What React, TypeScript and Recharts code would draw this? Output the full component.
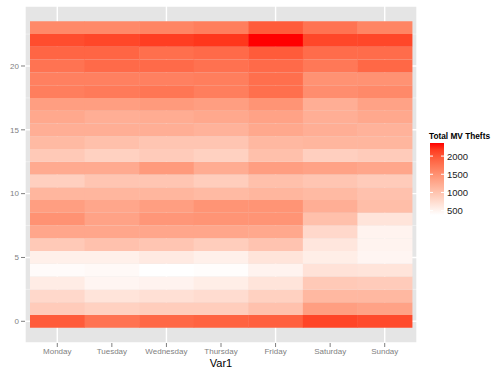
import { Bar, BarChart, CartesianGrid, Cell, XAxis, YAxis } from "recharts";

const days = ["Monday", "Tuesday", "Wednesday", "Thursday", "Friday", "Saturday", "Sunday"];
const hours = Array.from({ length: 24 }, (_, i) => i);
const yTicks = [0, 5, 10, 15, 20];
const legendTicks = [500, 1000, 1500, 2000];

// thefts per hour 0..23 for each day
const monday = [1965, 915, 780, 580, 420, 540, 935, 1290, 1490, 1370, 1135, 875, 1250, 935, 1095, 1210, 1270, 1370, 1670, 1650, 1765, 1885, 2065, 1570];
const tuesday = [1765, 855, 660, 480, 440, 540, 1015, 1290, 1330, 1290, 1135, 975, 1250, 855, 1035, 1210, 1210, 1370, 1705, 1650, 1845, 1885, 2105, 1570];
const wednesday = [1865, 895, 700, 500, 380, 600, 975, 1290, 1450, 1370, 1135, 975, 1410, 915, 975, 1210, 1230, 1410, 1745, 1650, 1845, 1805, 2160, 1610];
const thursday = [1905, 895, 740, 560, 400, 540, 895, 1290, 1470, 1470, 1095, 895, 1230, 855, 975, 1170, 1270, 1370, 1670, 1670, 1785, 1845, 2200, 1670];
const friday = [1925, 1015, 855, 660, 500, 660, 995, 1270, 1470, 1470, 1135, 1035, 1370, 1035, 1115, 1270, 1330, 1470, 1805, 1805, 1845, 1965, 2360, 1965];
const saturday = [2120, 1370, 1115, 935, 680, 560, 640, 780, 1035, 1210, 1095, 975, 1330, 875, 1135, 1210, 1210, 1210, 1530, 1490, 1725, 1825, 2105, 1765];
const sunday = [2085, 1330, 1115, 915, 660, 480, 500, 500, 660, 1055, 1015, 915, 1290, 915, 1135, 1170, 1270, 1330, 1570, 1490, 1865, 1825, 2105, 1610];

const values = [monday, tuesday, wednesday, thursday, friday, saturday, sunday];
const all = values.flat();
const vMin = Math.min(...all);
const vMax = Math.max(...all);

// white -> red, interpolated in Lab like ggplot's scale_fill_gradient
function labToHex(L: number, a: number, b: number) {
  const fy = (L + 16) / 116;
  const fx = fy + a / 500;
  const fz = fy - b / 200;
  const inv = (t: number) => (t > 6 / 29 ? t * t * t : 3 * (6 / 29) ** 2 * (t - 4 / 29));
  const X = 0.95047 * inv(fx);
  const Y = inv(fy);
  const Z = 1.08883 * inv(fz);
  const lin = [
    3.2406 * X - 1.5372 * Y - 0.4986 * Z,
    -0.9689 * X + 1.8758 * Y + 0.0415 * Z,
    0.0557 * X - 0.204 * Y + 1.057 * Z,
  ];
  return (
    "#" +
    lin
      .map((c) => {
        const v = c <= 0.0031308 ? 12.92 * c : 1.055 * Math.pow(c, 1 / 2.4) - 0.055;
        const n = Math.round(Math.max(0, Math.min(1, v)) * 255);
        return n.toString(16).padStart(2, "0");
      })
      .join("")
  );
}

function fillFor(v: number) {
  const t = (v - vMin) / (vMax - vMin);
  return labToHex(100 + (53.24 - 100) * t, 80.09 * t, 67.2 * t);
}

const rows = days.map((day) => {
  const row: Record<string, string | number> = { day };
  hours.forEach((h) => (row["h" + h] = 1));
  return row;
});

const font = "'Liberation Sans', Arial, sans-serif";
const axisText = { fill: "#7f7f7f", fontSize: 8, fontFamily: font };

function Legend() {
  const top = 143;
  const bottom = 215;
  const pos = (v: number) => bottom - ((v - vMin) / (vMax - vMin)) * (bottom - top);
  const stops = Array.from({ length: 11 }, (_, i) => i / 10);
  return (
    <svg width={90} height={369} style={{ position: "absolute", left: 410, top: 0 }}>
      <defs>
        <linearGradient id="bar" x1="0" y1="1" x2="0" y2="0">
          {stops.map((s) => (
            <stop key={s} offset={s} stopColor={fillFor(vMin + s * (vMax - vMin))} />
          ))}
        </linearGradient>
      </defs>
      <text
        x={19}
        y={139}
        fontSize={9}
        fontWeight="bold"
        fontFamily={font}
        fill="#000"
        textLength={61}
        lengthAdjust="spacingAndGlyphs"
      >
        Total MV Thefts
      </text>
      <rect x={20} y={top} width={14} height={bottom - top} fill="url(#bar)" />
      {legendTicks.map((t) => (
        <g key={t}>
          <line x1={20} x2={23} y1={pos(t)} y2={pos(t)} stroke="#fff" />
          <line x1={31} x2={34} y1={pos(t)} y2={pos(t)} stroke="#fff" />
          <text x={37} y={pos(t) + 3.5} fontSize={9.5} fontFamily={font} fill="#222">
            {t}
          </text>
        </g>
      ))}
    </svg>
  );
}

export default function App() {
  return (
    <div style={{ position: "absolute", left: 0, top: 0, width: 500, height: 369, background: "#fff" }}>
      <BarChart
        width={500}
        height={369}
        data={rows}
        margin={{ top: 6, right: 83, left: 0, bottom: 0 }}
        barCategoryGap={0}
        barGap={0}
      >
        <CartesianGrid
          fill="#e5e5e5"
          stroke="#f2f2f2"
          strokeWidth={0.8}
          vertical={false}
          horizontalValues={[3, 8, 13, 18, 23]}
        />
        <CartesianGrid stroke="#ffffff" strokeWidth={1.4} />
        <XAxis
          dataKey="day"
          padding={{ left: 5, right: 5 }}
          axisLine={false}
          tickSize={4}
          tickMargin={1}
          tickLine={{ stroke: "#7f7f7f" }}
          tick={axisText}
          height={26}
          label={{ value: "Var1", position: "insideBottom", offset: 2, fill: "#000", fontSize: 11, fontFamily: font }}
        />
        <YAxis
          type="number"
          domain={[-1.2, 25.2]}
          allowDataOverflow
          ticks={yTicks.map((t) => t + 0.5)}
          tickFormatter={(v: number) => String(v - 0.5)}
          width={25}
          axisLine={false}
          tickSize={4}
          tickMargin={2}
          tickLine={{ stroke: "#7f7f7f" }}
          tick={axisText}
        />
        {hours.map((h) => (
          <Bar key={h} dataKey={"h" + h} stackId="a" isAnimationActive={false}>
            {days.map((d, di) => (
              <Cell key={d} fill={fillFor(values[di][h])} />
            ))}
          </Bar>
        ))}
      </BarChart>
      <Legend />
    </div>
  );
}
